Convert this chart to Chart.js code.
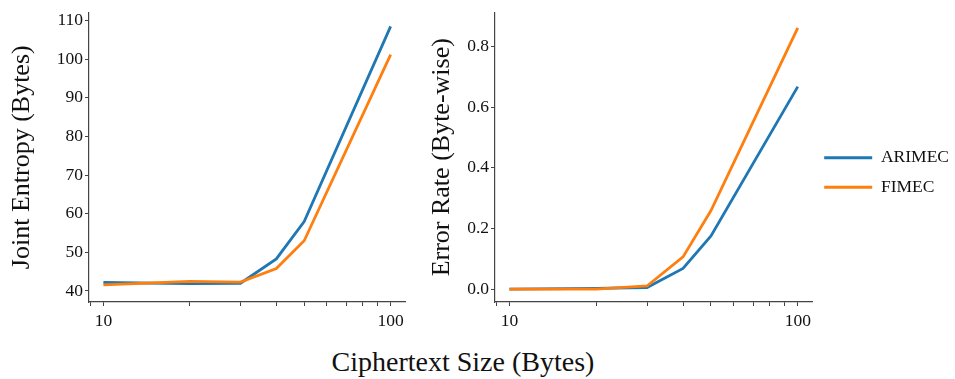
<!DOCTYPE html>
<html>
<head>
<meta charset="utf-8">
<script src="https://cdn.jsdelivr.net/npm/chart.js@4"></script>
<style>
  body { margin: 0; background: #fff; width: 955px; height: 379px; position: relative; overflow: hidden; }
  canvas { position: absolute; left: 0; top: 0; }
  #xlabel { position: absolute; left: 0; width: 926px; top: 346px; text-align: center;
            font: 28px "Liberation Serif", serif; color: #111; line-height: 32px; }
</style>
</head>
<body>
<canvas id="errorChart" width="959" height="340"></canvas>
<canvas id="entropyChart" width="420" height="340"></canvas>
<div id="xlabel">Ciphertext Size (Bytes)</div>
<script>
const sizes = [10, 20, 30, 40, 50, 100];
const entropyArimec = [42.2, 41.9, 42.0, 48.3, 58.0, 108.5];
const entropyFimec = [41.6, 42.5, 42.3, 45.8, 53.0, 101.2];
const errorArimec = [0.0, 0.002, 0.005, 0.068, 0.175, 0.668];
const errorFimec = [0.0, 0.0, 0.01, 0.106, 0.259, 0.862];
const xTicks = [9, 10, 20, 30, 40, 50, 60, 70, 80, 90, 100];
const xTickLabels = { 10: "10", 100: "100" };
const entropyTicks = [40, 50, 60, 70, 80, 90, 100, 110];
const errorTicks = [0, 0.2, 0.4, 0.6, 0.8];

const BLUE = "#1f77b4";
const ORANGE = "#ff7f0e";
const AXIS = "#444";
const serif = "'Liberation Serif', 'Times New Roman', serif";

function points(ys) {
    return sizes.map((x, i) => ({ x: x, y: ys[i] }));
}

function lineDataset(label, ys, color, order) {
    return {
        label: label,
        data: points(ys),
        borderColor: color,
        backgroundColor: color,
        borderWidth: 2.8,
        pointRadius: 0,
        tension: 0,
        order: order
    };
}

function xScale() {
    return {
        type: "logarithmic",
        min: 8.91,
        max: 112.2,
        afterBuildTicks: (scale) => {
            scale.ticks = xTicks.map(v => ({ value: v, major: v === 10 || v === 100 }));
        },
        afterFit: (scale) => { scale.height = 38; },
        ticks: {
            autoSkip: false,
            maxRotation: 0,
            padding: 5,
            color: "#111",
            font: { family: serif, size: 17.5 },
            callback: (v) => xTickLabels[v] || ""
        },
        grid: { drawOnChartArea: false, drawTicks: true, tickLength: 4, tickColor: AXIS },
        border: { display: true, color: AXIS, width: 1.2 }
    };
}

function yScale(min, max, tickValues, title, width, titlePad, fmt) {
    return {
        type: "linear",
        min: min,
        max: max,
        afterBuildTicks: (scale) => {
            scale.ticks = tickValues.map(v => ({ value: v }));
        },
        afterFit: (scale) => { scale.width = width; },
        ticks: {
            padding: 2,
            color: "#111",
            font: { family: serif, size: 17.5 },
            callback: fmt
        },
        title: {
            display: true,
            text: title,
            color: "#111",
            font: { family: serif, size: 26 },
            padding: { top: titlePad, bottom: 4 }
        },
        grid: { drawOnChartArea: false, drawTicks: true, tickLength: 4, tickColor: AXIS },
        border: { display: true, color: AXIS, width: 1.2 }
    };
}

new Chart(document.getElementById("entropyChart"), {
    type: "line",
    data: {
        datasets: [
            lineDataset("ARIMEC", entropyArimec, BLUE, 1),
            lineDataset("FIMEC", entropyFimec, ORANGE, 0)
        ]
    },
    options: {
        responsive: false,
        animation: false,
        layout: { padding: { left: 0, top: 5, right: 15, bottom: 0 } },
        plugins: { legend: { display: false }, tooltip: { enabled: false } },
        scales: {
            x: xScale(),
            y: yScale(37.15, 112.1, entropyTicks, "Joint Entropy (Bytes)", 89, 7, (v) => String(v))
        }
    }
});

// second panel: full-width canvas, its y axis box covers the first panel's space
new Chart(document.getElementById("errorChart"), {
    type: "line",
    data: {
        datasets: [
            lineDataset("ARIMEC", errorArimec, BLUE, 1),
            lineDataset("FIMEC", errorFimec, ORANGE, 0)
        ]
    },
    options: {
        responsive: false,
        animation: false,
        layout: { padding: { left: 0, top: 5, right: 0, bottom: 0 } },
        plugins: {
            tooltip: { enabled: false },
            legend: {
                position: "right",
                labels: {
                    boxWidth: 48,
                    boxHeight: 3,
                    padding: 12,
                    color: "#111",
                    font: { family: serif, size: 17.5 },
                    sort: (a, b) => a.datasetIndex - b.datasetIndex,
                    generateLabels: (chart) =>
                        Chart.defaults.plugins.legend.labels.generateLabels(chart)
                            .map(l => ({ ...l, lineWidth: 0, strokeStyle: l.fillStyle }))
                }
            }
        },
        scales: {
            x: xScale(),
            y: yScale(-0.0428, 0.9125, errorTicks, "Error Rate (Byte-wise)", 495, 427, (v) => v.toFixed(1))
        }
    }
});
</script>
</body>
</html>
